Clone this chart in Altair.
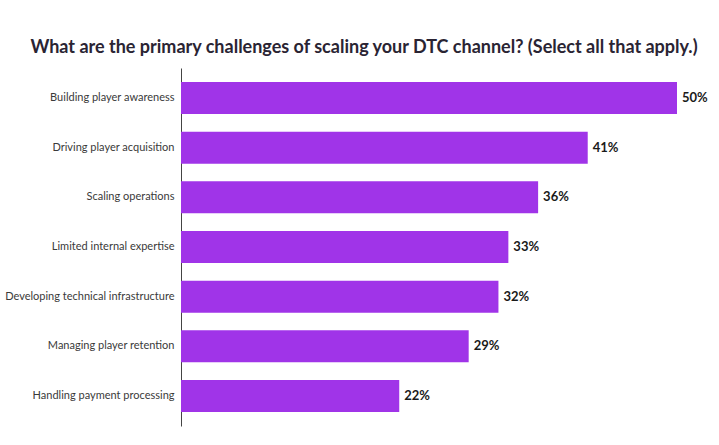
import altair as alt
import pandas as pd

categories = [
    "Building player awareness",
    "Driving player acquisition",
    "Scaling operations",
    "Limited internal expertise",
    "Developing technical infrastructure",
    "Managing player retention",
    "Handling payment processing",
]
values = [50, 41, 36, 33, 32, 29, 22]
labels = [f"{v}%" for v in values]

df = pd.DataFrame({"category": categories, "value": values, "label": labels})

y = alt.Y(
    "category:N",
    sort=categories,
    title=None,
    scale=alt.Scale(paddingInner=0.356, paddingOuter=0.282),
    axis=alt.Axis(
        ticks=False,
        domain=True,
        grid=False,
        domainColor="#444444",
        domainWidth=1,
        labelFont="Lato",
        labelFontSize=11,
        labelColor="#3a3a3a",
        labelPadding=7,
        labelLimit=300,
    ),
)
x = alt.X(
    "value:Q",
    title=None,
    scale=alt.Scale(domain=[0, 50], nice=False, zero=True),
    axis=None,
)

bars = alt.Chart(df).mark_bar(color="#a034e8").encode(x=x, y=y)
text = alt.Chart(df).mark_text(
    align="left", baseline="middle", dx=5, font="Lato", fontSize=13,
    fontWeight="bold", color="#1a1a1a"
).encode(x=x, y=y, text="label:N")

chart = (
    alt.layer(bars, text)
    .properties(
        width=496,
        height=358,
        view=alt.ViewBackground(stroke=None, strokeWidth=0),
        title=alt.TitleParams(
            "What are the primary challenges of scaling your DTC channel? (Select all that apply.)",
            font="Lato",
            fontSize=18,
            fontWeight="bold",
            color="#2a2433",
            anchor="middle",
            dx=-65,
            offset=11,
        ),
        autosize=alt.AutoSizeParams(type="none"),
        padding={"left": 181, "top": 68, "right": 42, "bottom": 19},
    )
    .configure_view(stroke=None, strokeWidth=0)
    .configure_axis(grid=False)
    .configure(background="white")
)

chart.save("out.html", embed_options={"renderer": "svg", "actions": False})
